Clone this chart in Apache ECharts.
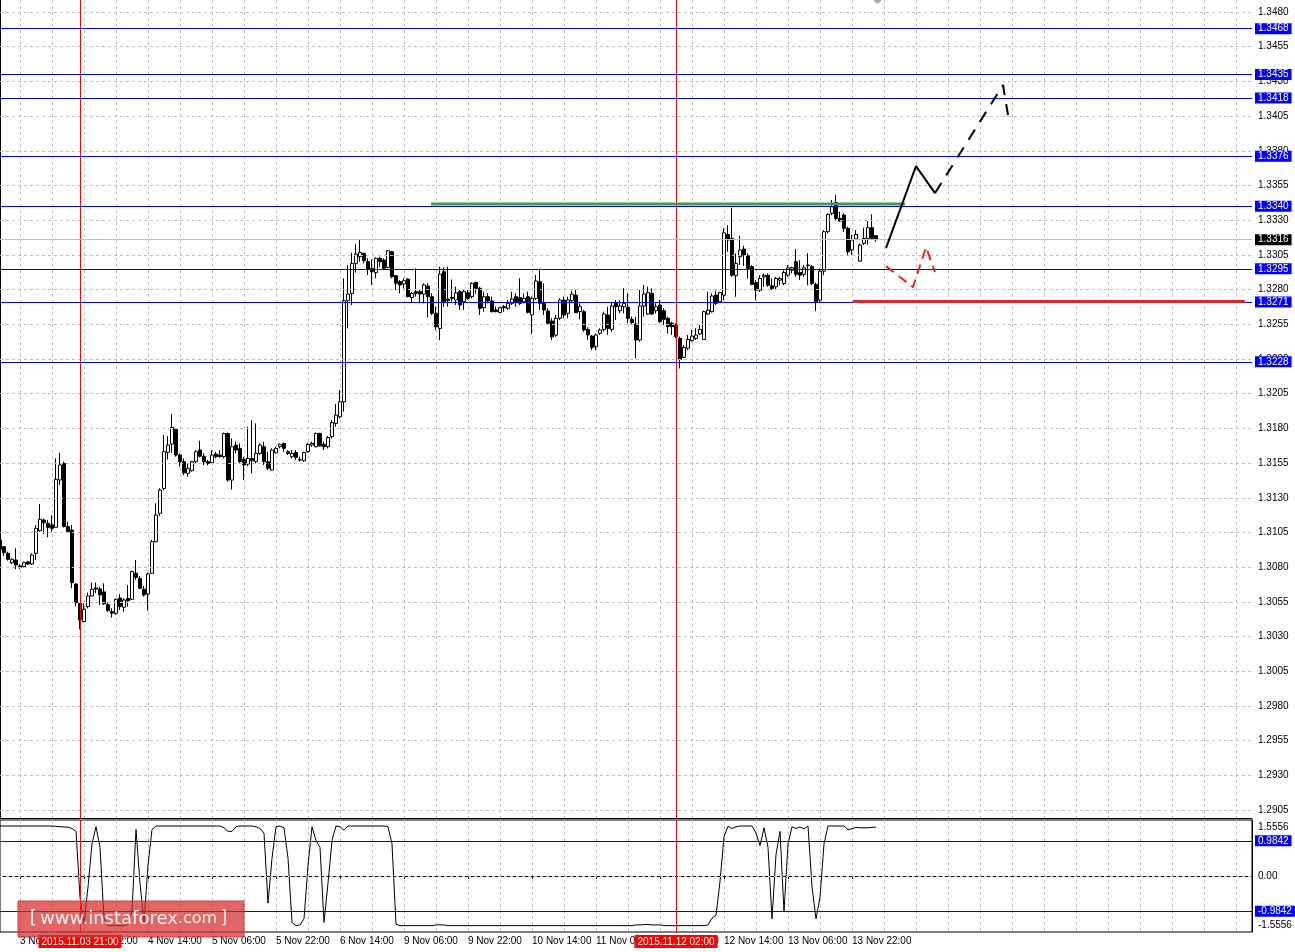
<!DOCTYPE html>
<html><head><meta charset="utf-8">
<script src="https://cdn.jsdelivr.net/npm/echarts@6/dist/echarts.min.js"></script>
<style>html,body{margin:0;padding:0;background:#fff}#c{width:1295px;height:952px}</style>
</head><body><div id="c"></div>
<script>
// ---------- DATA ----------
const opens = [1.30995,1.30948,1.30900,1.30833,1.30852,1.30809,1.30804,1.30838,1.30823,1.30900,
1.31063,1.31140,1.31116,1.31104,1.31087,1.31428,1.31548,1.31092,1.31068,1.30679,
1.30540,1.30408,1.30516,1.30593,1.30650,1.30643,1.30622,1.30530,1.30480,1.30468,
1.30578,1.30511,1.30574,1.30569,1.30756,1.30720,1.30641,1.30607,1.30756,1.30984,
1.31188,1.31367,1.31627,1.31687,1.31793,1.31608,1.31560,1.31476,1.31495,1.31560,
1.31644,1.31600,1.31560,1.31552,1.31615,1.31608,1.31596,1.31764,1.31428,1.31680,
1.31656,1.31576,1.31543,1.31584,1.31560,1.31620,1.31668,1.31560,1.31500,1.31624,
1.31668,1.31692,1.31632,1.31596,1.31627,1.31576,1.31567,1.31632,1.31680,1.31668,
1.31764,1.31685,1.31668,1.31740,1.31836,1.31884,1.31992,1.32720,1.32773,1.32989,
1.33037,1.33061,1.33001,1.32953,1.32922,1.33025,1.33013,1.32960,1.33073,1.32900,
1.32857,1.32840,1.32876,1.32744,1.32785,1.32785,1.32768,1.32825,1.32749,1.32629,
1.32520,1.32929,1.32732,1.32744,1.32725,1.32785,1.32713,1.32777,1.32749,1.32852,
1.32809,1.32670,1.32749,1.32718,1.32653,1.32636,1.32677,1.32665,1.32701,1.32749,
1.32742,1.32713,1.32749,1.32617,1.32737,1.32857,1.32701,1.32646,1.32573,1.32472,
1.32593,1.32725,1.32629,1.32720,1.32761,1.32641,1.32641,1.32513,1.32465,1.32388,
1.32485,1.32513,1.32617,1.32513,1.32701,1.32648,1.32677,1.32672,1.32586,1.32552,
1.32437,1.32682,1.32624,1.32773,1.32648,1.32689,1.32648,1.32593,1.32557,1.32545,
1.32449,1.32312,1.32377,1.32432,1.32449,1.32480,1.32441,1.32624,1.32641,1.32761,
1.32713,1.32760,1.33197,1.33169,1.32900,1.33037,1.33092,1.33044,1.32965,1.32852,
1.32796,1.32892,1.32904,1.32828,1.32820,1.32868,1.32844,1.32904,1.32940,1.33001,
1.32924,1.32910,1.32972,1.32965,1.32837,1.32724,1.32933,1.33217,1.33349,1.33428,
1.33313,1.33337,1.33241,1.33085,1.33164,1.33005,1.33133,1.33169,1.33246,1.33188];
const closes = [1.30928,1.30905,1.30857,1.30857,1.30816,1.30799,1.30833,1.30823,1.30888,1.31080,
1.31145,1.31121,1.31087,1.31080,1.31433,1.31536,1.31092,1.31056,1.30689,1.30545,
1.30420,1.30497,1.30593,1.30641,1.30643,1.30600,1.30535,1.30487,1.30468,1.30569,
1.30516,1.30564,1.30559,1.30768,1.30727,1.30648,1.30600,1.30751,1.30984,1.31176,
1.31356,1.31632,1.31680,1.31807,1.31608,1.31560,1.31480,1.31512,1.31560,1.31632,
1.31600,1.31560,1.31548,1.31608,1.31596,1.31596,1.31764,1.31428,1.31668,1.31644,
1.31560,1.31536,1.31584,1.31567,1.31620,1.31680,1.31560,1.31512,1.31644,1.31656,
1.31685,1.31656,1.31620,1.31620,1.31591,1.31572,1.31627,1.31685,1.31692,1.31764,
1.31673,1.31668,1.31735,1.31841,1.31896,1.31992,1.32720,1.32768,1.32989,1.33056,
1.33068,1.33008,1.32946,1.32929,1.33025,1.33001,1.32953,1.33080,1.32893,1.32845,
1.32833,1.32864,1.32749,1.32773,1.32773,1.32768,1.32833,1.32749,1.32629,1.32532,
1.32912,1.32713,1.32720,1.32737,1.32777,1.32689,1.32785,1.32737,1.32845,1.32809,
1.32665,1.32749,1.32718,1.32641,1.32641,1.32670,1.32670,1.32701,1.32732,1.32708,
1.32701,1.32737,1.32636,1.32737,1.32862,1.32701,1.32653,1.32557,1.32460,1.32593,
1.32725,1.32617,1.32725,1.32768,1.32634,1.32677,1.32509,1.32473,1.32384,1.32473,
1.32509,1.32624,1.32521,1.32682,1.32677,1.32682,1.32701,1.32593,1.32562,1.32437,
1.32682,1.32768,1.32778,1.32624,1.32677,1.32569,1.32586,1.32533,1.32533,1.32461,
1.32297,1.32384,1.32441,1.32465,1.32473,1.32513,1.32641,1.32653,1.32754,1.32701,
1.32778,1.33209,1.33157,1.32904,1.32989,1.33085,1.33049,1.32953,1.32837,1.32796,
1.32880,1.32904,1.32832,1.32808,1.32880,1.32880,1.32924,1.32957,1.32957,1.32910,
1.32904,1.32957,1.32977,1.32844,1.32712,1.32933,1.33217,1.33342,1.33397,1.33313,
1.33294,1.33241,1.33073,1.33157,1.33197,1.33121,1.33169,1.33246,1.33169,1.33160];
const lows = [1.30919,1.30881,1.30847,1.30823,1.30785,1.30785,1.30799,1.30816,1.30816,1.30852,
1.31056,1.31039,1.31015,1.31056,1.31087,1.31392,1.31087,1.31049,1.30648,1.30516,
1.30353,1.30401,1.30504,1.30588,1.30612,1.30528,1.30528,1.30480,1.30437,1.30456,
1.30492,1.30480,1.30516,1.30564,1.30708,1.30641,1.30588,1.30487,1.30751,1.30979,
1.31169,1.31355,1.31576,1.31624,1.31596,1.31524,1.31464,1.31452,1.31488,1.31548,
1.31591,1.31536,1.31533,1.31548,1.31584,1.31591,1.31584,1.31416,1.31360,1.31620,
1.31548,1.31428,1.31528,1.31476,1.31548,1.31608,1.31536,1.31500,1.31495,1.31620,
1.31656,1.31632,1.31608,1.31584,1.31572,1.31560,1.31560,1.31624,1.31668,1.31663,
1.31668,1.31644,1.31656,1.31728,1.31812,1.31872,1.31920,1.32520,1.32689,1.32922,
1.33001,1.32989,1.32905,1.32833,1.32881,1.32965,1.32946,1.32953,1.32881,1.32797,
1.32773,1.32809,1.32744,1.32705,1.32749,1.32701,1.32701,1.32600,1.32616,1.32508,
1.32436,1.32677,1.32677,1.32713,1.32689,1.32653,1.32653,1.32725,1.32737,1.32773,
1.32617,1.32641,1.32701,1.32636,1.32636,1.32629,1.32641,1.32653,1.32689,1.32677,
1.32689,1.32701,1.32629,1.32480,1.32725,1.32653,1.32617,1.32545,1.32436,1.32460,
1.32581,1.32593,1.32593,1.32706,1.32629,1.32586,1.32497,1.32437,1.32365,1.32365,
1.32473,1.32497,1.32473,1.32497,1.32581,1.32629,1.32629,1.32557,1.32545,1.32304,
1.32425,1.32605,1.32617,1.32617,1.32629,1.32557,1.32545,1.32485,1.32473,1.32449,
1.32232,1.32304,1.32365,1.32425,1.32437,1.32473,1.32437,1.32617,1.32634,1.32689,
1.32706,1.32724,1.33073,1.32892,1.32748,1.32977,1.32972,1.32880,1.32832,1.32724,
1.32784,1.32820,1.32820,1.32796,1.32796,1.32832,1.32832,1.32892,1.32916,1.32892,
1.32868,1.32892,1.32832,1.32832,1.32645,1.32712,1.32904,1.33205,1.33337,1.33301,
1.33289,1.33217,1.33049,1.33049,1.33157,1.33001,1.33121,1.33125,1.33157,1.33145];
const highs = [1.31000,1.30953,1.30912,1.30864,1.30936,1.30821,1.30840,1.30845,1.30900,1.31104,
1.31255,1.31150,1.31140,1.31174,1.31584,1.31625,1.31560,1.31128,1.31104,1.30684,
1.30545,1.30540,1.30617,1.30689,1.30689,1.30660,1.30684,1.30545,1.30504,1.30576,
1.30607,1.30576,1.30672,1.30775,1.30852,1.30737,1.30665,1.30761,1.30996,1.31260,
1.31368,1.31752,1.31745,1.31903,1.31800,1.31620,1.31584,1.31548,1.31567,1.31644,
1.31711,1.31620,1.31572,1.31644,1.31632,1.31644,1.31769,1.31769,1.31728,1.31704,
1.31692,1.31596,1.31812,1.31860,1.31836,1.31692,1.31704,1.31632,1.31656,1.31668,
1.31692,1.31697,1.31644,1.31644,1.31644,1.31596,1.31632,1.31697,1.31704,1.31769,
1.31769,1.31704,1.31745,1.31860,1.31975,1.32076,1.32881,1.32977,1.33066,1.33128,
1.33162,1.33066,1.33025,1.33018,1.33032,1.33037,1.33025,1.33085,1.33080,1.32905,
1.32869,1.32881,1.32881,1.32785,1.32953,1.32797,1.32845,1.32845,1.32773,1.32677,
1.32965,1.32960,1.32965,1.32873,1.32821,1.32797,1.32801,1.32797,1.32852,1.32857,
1.32821,1.32785,1.32773,1.32749,1.32677,1.32677,1.32689,1.32725,1.32785,1.32773,
1.32881,1.32773,1.32785,1.32749,1.32905,1.32953,1.32845,1.32665,1.32593,1.32617,
1.32737,1.32749,1.32749,1.32792,1.32797,1.32701,1.32653,1.32528,1.32473,1.32485,
1.32521,1.32641,1.32677,1.32713,1.32725,1.32725,1.32809,1.32773,1.32605,1.32605,
1.32797,1.32833,1.32821,1.32809,1.32701,1.32725,1.32665,1.32605,1.32569,1.32557,
1.32461,1.32401,1.32473,1.32509,1.32521,1.32545,1.32648,1.32785,1.32773,1.32792,
1.32785,1.33241,1.33265,1.33390,1.33061,1.33188,1.33116,1.33061,1.32977,1.32868,
1.32904,1.32916,1.32916,1.32880,1.32892,1.32892,1.32940,1.32977,1.32965,1.33092,
1.33013,1.32977,1.33061,1.32977,1.32852,1.32953,1.33229,1.33349,1.33445,1.33481,
1.33361,1.33349,1.33253,1.33193,1.33229,1.33133,1.33246,1.33294,1.33342,1.33193];
const oscillator = [1.40,1.40,1.40,1.40,1.40,1.40,1.40,1.40,1.40,1.40,
1.40,1.40,1.40,1.40,1.39,1.38,1.37,1.37,1.33,1.25,
-0.60,-1.35,-0.30,0.90,1.38,0.80,-1.20,-1.39,-1.39,-1.39,
-1.39,-1.39,-1.35,-1.00,1.30,-0.20,-1.30,0.30,1.30,1.40,
1.40,1.40,1.40,1.40,1.40,1.40,1.40,1.40,1.40,1.40,
1.40,1.40,1.40,1.40,1.40,1.40,1.35,1.25,1.25,1.38,
1.40,1.40,1.40,1.40,1.38,1.33,1.20,-0.76,0.50,1.38,
1.40,1.35,0.50,-1.30,-1.39,-1.37,-1.20,0.30,1.38,1.00,
0.80,-1.30,-0.20,1.00,1.40,1.38,1.28,1.40,1.40,1.40,
1.40,1.40,1.40,1.40,1.40,1.40,1.40,1.38,0.90,-1.35,
-1.39,-1.39,-1.39,-1.39,-1.39,-1.39,-1.39,-1.39,-1.39,-1.37,
-1.37,-1.37,-1.39,-1.39,-1.39,-1.39,-1.39,-1.39,-1.39,-1.39,
-1.39,-1.39,-1.39,-1.39,-1.39,-1.39,-1.39,-1.39,-1.39,-1.39,
-1.39,-1.39,-1.39,-1.39,-1.39,-1.39,-1.39,-1.39,-1.39,-1.39,
-1.39,-1.39,-1.39,-1.39,-1.39,-1.39,-1.39,-1.39,-1.39,-1.39,
-1.39,-1.39,-1.39,-1.39,-1.39,-1.39,-1.39,-1.39,-1.39,-1.37,
-1.37,-1.36,-1.36,-1.37,-1.37,-1.37,-1.39,-1.39,-1.39,-1.39,
-1.39,-1.39,-1.39,-1.39,-1.39,-1.39,-1.39,-1.37,-1.18,-1.10,
-0.15,1.10,1.39,1.33,1.38,1.40,1.40,1.40,1.40,1.20,
0.85,1.35,0.80,-1.20,0.60,1.25,-1.00,0.90,1.38,1.33,
1.37,1.32,1.40,-0.30,-1.20,-0.60,0.90,1.40,1.40,1.40,
1.40,1.40,1.30,1.32,1.36,1.35,1.35,1.35,1.36,1.37];

const priceTicks = [1.2905,1.2930,1.2955,1.2980,1.3005,1.3030,1.3055,1.3080,1.3105,1.3130,1.3155,1.3180,
  1.3205,1.3230,1.3255,1.3280,1.3305,1.3330,1.3355,1.3380,1.3405,1.3430,1.3455,1.3480];
const oscTicks = [-1.5556, 0, 1.5556];
const levelLines = [1.3468, 1.3435, 1.3418, 1.3376, 1.3340, 1.3295, 1.3271, 1.3228];
const bidPrice = 1.3316;
const oscLevels = [0.9842, -0.9842];
const markerBars = [20, 169];
const markerLabels = ['2015.11.03 21:00', '2015.11.12 02:00'];
// annotations in (bar index, price)
const greenLine = [[107.75, 1.33416], [226.25, 1.33416]];
const redLine = [[213.25, 1.32715], [311.25, 1.32715]];
const blackSolid = [[221.5, 1.33099], [229, 1.33690], [233.75, 1.33495]];
const blackDashed = [[233.75, 1.33495], [250.75, 1.34274], [252, 1.34057]];
const redPath = [[221.5, 1.32969], [228.25, 1.32818], [231.5, 1.33106], [233.75, 1.32926]];

// ---------- CATEGORIES (hourly, weekends skipped) ----------
const N = 314;
const MONTHS = ['Jan','Feb','Mar','Apr','May','Jun','Jul','Aug','Sep','Oct','Nov','Dec'];
const cats = [];
let t = Date.UTC(2015, 10, 3, 1);
while (cats.length < N) {
  const d = new Date(t);
  const wd = d.getUTCDay();
  if (wd !== 0 && wd !== 6) cats.push(d.getUTCDate() + ' ' + MONTHS[d.getUTCMonth()] + ' ' + String(d.getUTCHours()).padStart(2, '0') + ':00');
  t += 3600000;
}
const candles = opens.map((o, i) => [o, closes[i], lows[i], highs[i]]);

const FONT = 'Liberation Sans';
const gridDash = { color: '#c0c0c0', type: [3, 3], width: 1 };
const every8 = i => i % 8 === 5;
const every16 = i => i % 16 === 5 && i <= 213;
const boxLabel = (bg) => ({ show: true, position: 'end', distance: 3, color: '#fff', backgroundColor: bg,
  padding: [1, 3, 0, 3], fontSize: 10, fontFamily: FONT, formatter: p => Number(p.value).toFixed(4) });

const chart = echarts.init(document.getElementById('c'));
chart.setOption({
  animation: false,
  textStyle: { fontFamily: FONT },
  grid: [
    { left: 0, top: 0, width: 1252, height: 818 },
    { left: 0, top: 820, width: 1252, height: 112, show: true, borderColor: '#000', borderWidth: 1 }
  ],
  xAxis: [
    { type: 'category', gridIndex: 0, data: cats, boundaryGap: false,
      axisLine: { show: true, lineStyle: { color: '#000' } }, axisTick: { show: false }, axisLabel: { show: false },
      splitLine: { show: true, interval: every8, lineStyle: gridDash } },
    { type: 'category', gridIndex: 1, data: cats, boundaryGap: false,
      axisLine: { show: true, lineStyle: { color: '#000' } },
      axisTick: { show: true, interval: every16, length: 3, lineStyle: { color: '#000' } },
      axisLabel: { interval: every16, align: 'left', margin: 4, fontSize: 10, color: '#000', fontFamily: FONT },
      splitLine: { show: true, interval: every8, lineStyle: gridDash } },
    { type: 'value', gridIndex: 0, min: 0, max: N - 1, show: false }
  ],
  yAxis: [
    { type: 'value', gridIndex: 0, position: 'right', min: 1.28993, max: 1.348865,
      axisLine: { show: true, lineStyle: { color: '#000' } },
      axisTick: { show: true, customValues: priceTicks, length: 3, lineStyle: { color: '#000' } },
      axisLabel: { customValues: priceTicks, formatter: v => v.toFixed(4), fontSize: 10, color: '#000', margin: 6, fontFamily: FONT },
      splitLine: { show: false } },
    { type: 'value', gridIndex: 1, position: 'right', min: -1.568, max: 1.568,
      axisLine: { show: true, lineStyle: { color: '#000' } },
      axisTick: { show: false },
      axisLabel: { customValues: oscTicks, margin: 6, fontSize: 10, color: '#000', fontFamily: FONT,
        formatter: v => v > 1 ? '{t|1.5556}' : (v < -1 ? '{b|-1.5556}' : '0.00'),
        rich: { t: { padding: [13, 0, 0, 0], fontSize: 10, color: '#000', fontFamily: FONT },
                b: { padding: [0, 0, 13, 0], fontSize: 10, color: '#000', fontFamily: FONT } } },
      splitLine: { show: false } }
  ],
  series: [
    { type: 'line', name: 'hgrid', xAxisIndex: 0, yAxisIndex: 0, data: [], z: 1, silent: true,
      markLine: { silent: true, precision: 5, symbol: ['none', 'none'], label: { show: false }, lineStyle: gridDash,
        data: priceTicks.map(v => ({ yAxis: v })) } },
    { type: 'line', name: 'oscgrid', xAxisIndex: 1, yAxisIndex: 1, data: [], z: 1, silent: true,
      markLine: { silent: true, precision: 5, symbol: ['none', 'none'], label: { show: false }, lineStyle: gridDash,
        data: [{ yAxis: 0 }] } },
    { type: 'candlestick', name: 'USDCAD', xAxisIndex: 0, yAxisIndex: 0, data: candles, z: 3,
      barWidth: 3, silent: true,
      itemStyle: { color: '#ffffff', color0: '#000000', borderColor: '#000000', borderColor0: '#000000', borderWidth: 1 },
      markLine: { silent: true, symbol: ['none', 'none'], label: { show: false },
        lineStyle: { color: '#ff0000', type: 'solid', width: 1 },
        data: markerBars.map(b => ({ xAxis: b })) } },
    { type: 'line', name: 'levels', xAxisIndex: 0, yAxisIndex: 0, data: [], z: 5, silent: true,
      markLine: { silent: true, symbol: ['none', 'none'], precision: 5,
        data: levelLines.map(v => ({ yAxis: v, lineStyle: { color: '#0000ff', type: 'solid', width: 1 }, label: boxLabel('#0000ff') }))
          .concat([{ yAxis: bidPrice, lineStyle: { color: '#c0c0c0', type: 'solid', width: 1 }, label: boxLabel('#000000') }]) } },
    { type: 'line', name: 'green', xAxisIndex: 2, yAxisIndex: 0, data: greenLine, z: 6, symbol: 'none', silent: true,
      lineStyle: { color: '#3fa03f', width: 3 } },
    { type: 'line', name: 'red', xAxisIndex: 2, yAxisIndex: 0, data: redLine, z: 6, symbol: 'none', silent: true,
      lineStyle: { color: '#e8232a', width: 3 } },
    { type: 'line', name: 'arrowSolid', xAxisIndex: 2, yAxisIndex: 0, data: blackSolid, z: 6, symbol: 'none', silent: true,
      lineStyle: { color: '#000', width: 2 } },
    { type: 'line', name: 'arrowDash', xAxisIndex: 2, yAxisIndex: 0, data: blackDashed, z: 6, symbol: 'none', silent: true,
      lineStyle: { color: '#000', width: 2, type: [12, 9] } },
    { type: 'line', name: 'redArrow', xAxisIndex: 2, yAxisIndex: 0, data: redPath, z: 6, symbol: 'none', silent: true,
      lineStyle: { color: '#e8232a', width: 2, type: [10, 6] } },
    { type: 'line', name: 'osc', xAxisIndex: 1, yAxisIndex: 1, data: oscillator, z: 3, symbol: 'none', silent: true,
      lineStyle: { color: '#000', width: 1 },
      markLine: { silent: true, precision: 5, symbol: ['none', 'none'],
        data: oscLevels.map(v => ({ yAxis: v, lineStyle: { color: '#0000ff', type: 'solid', width: 1 },
            label: { show: true, position: 'end', distance: 3, color: '#fff', backgroundColor: '#0000ff',
              padding: [1, 3, 0, 3], fontSize: 10, fontFamily: FONT, formatter: v.toFixed(4) } }))
          .concat(markerBars.map((b, k) => ({ xAxis: b, lineStyle: { color: '#ff0000', type: 'solid', width: 1 },
            label: { show: true, position: 'start', distance: 3, color: '#fff', backgroundColor: '#ff0000',
              padding: [2, 3, 1, 3], fontSize: 10, fontFamily: FONT, formatter: markerLabels[k] } }))) } }
  ],
  graphic: [
    { type: 'polygon', shape: { points: [[873, 0], [882, 0], [877.5, 4]] }, style: { fill: '#a8a8a8' }, z: 50, silent: true },
    { type: 'rect', shape: { x: 18, y: 901, width: 226, height: 36 }, z: 100, silent: true,
      style: { fill: 'rgba(214,44,44,0.72)', stroke: 'rgba(200,60,60,0.9)', lineWidth: 1 } },
    { type: 'text', x: 30, y: 919, z: 101, silent: true,
      style: { text: '{b|[} {w|www.instaforex}{c|.com} {b|]}', verticalAlign: 'middle',
        rich: { b: { fontSize: 17, fill: 'rgba(255,255,255,0.92)', fontFamily: 'DejaVu Sans' },
                w: { fontSize: 18, fill: 'rgba(255,255,255,0.92)', fontFamily: 'DejaVu Sans' },
                c: { fontSize: 16, fill: 'rgba(255,255,255,0.92)', fontFamily: 'DejaVu Sans' } } } }
  ]
});
</script>
</body></html>
